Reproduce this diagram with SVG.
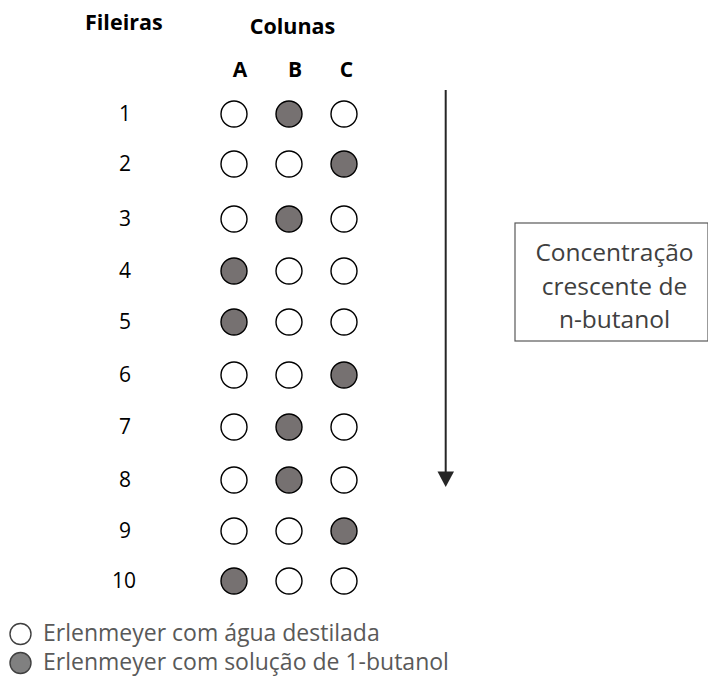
<svg xmlns="http://www.w3.org/2000/svg" width="708" height="685" viewBox="0 0 708 685">
<style>
.hdr{font-family:"Open Sans","Liberation Sans",sans-serif;font-weight:bold;fill:#000}
.num{font-family:"Open Sans","Liberation Sans",sans-serif;font-size:21px;fill:#000;text-anchor:middle}
.e{fill:#fff;stroke:#000;stroke-width:1.4}
.f{fill:#767171;stroke:#000;stroke-width:1.4}
.box{fill:#fff;stroke:#595959;stroke-width:1.2}
.bt{font-family:"Open Sans","Liberation Sans",sans-serif;font-size:24.5px;fill:#404040;text-anchor:middle}
.lg{font-family:"Open Sans","Liberation Sans",sans-serif;font-size:23px;fill:#595959}
.le{fill:#fff;stroke:#404040;stroke-width:1.4}
.lf{fill:#808080;stroke:#404040;stroke-width:1.4}
</style>
<rect width="708" height="685" fill="#fff"/>
<g id="headers">
<text class="hdr" x="85" y="30" font-size="21.5">Fileiras</text>
<text class="hdr" x="292.5" y="34" font-size="21.5" text-anchor="middle">Colunas</text>
<text class="hdr" x="240" y="77" font-size="21" text-anchor="middle">A</text>
<text class="hdr" x="295" y="77" font-size="21" text-anchor="middle">B</text>
<text class="hdr" x="346.5" y="77" font-size="21" text-anchor="middle">C</text>
</g>
<g id="row1"><text class="num" x="125" y="121">1</text><circle class="e" cx="234" cy="114" r="13"/><circle class="f" cx="289" cy="114" r="13"/><circle class="e" cx="344" cy="114" r="13"/></g>
<g id="row2"><text class="num" x="125" y="171">2</text><circle class="e" cx="234" cy="164" r="13"/><circle class="e" cx="289" cy="164" r="13"/><circle class="f" cx="344" cy="164" r="13"/></g>
<g id="row3"><text class="num" x="125" y="226">3</text><circle class="e" cx="234" cy="219" r="13"/><circle class="f" cx="289" cy="219" r="13"/><circle class="e" cx="344" cy="219" r="13"/></g>
<g id="row4"><text class="num" x="125" y="278">4</text><circle class="f" cx="234" cy="271" r="13"/><circle class="e" cx="289" cy="271" r="13"/><circle class="e" cx="344" cy="271" r="13"/></g>
<g id="row5"><text class="num" x="125" y="329">5</text><circle class="f" cx="234" cy="322" r="13"/><circle class="e" cx="289" cy="322" r="13"/><circle class="e" cx="344" cy="322" r="13"/></g>
<g id="row6"><text class="num" x="125" y="382">6</text><circle class="e" cx="234" cy="375" r="13"/><circle class="e" cx="289" cy="375" r="13"/><circle class="f" cx="344" cy="375" r="13"/></g>
<g id="row7"><text class="num" x="125" y="434">7</text><circle class="e" cx="234" cy="427" r="13"/><circle class="f" cx="289" cy="427" r="13"/><circle class="e" cx="344" cy="427" r="13"/></g>
<g id="row8"><text class="num" x="125" y="487">8</text><circle class="e" cx="234" cy="480" r="13"/><circle class="f" cx="289" cy="480" r="13"/><circle class="e" cx="344" cy="480" r="13"/></g>
<g id="row9"><text class="num" x="125" y="538">9</text><circle class="e" cx="234" cy="531" r="13"/><circle class="e" cx="289" cy="531" r="13"/><circle class="f" cx="344" cy="531" r="13"/></g>
<g id="row10"><text class="num" x="124" y="588">10</text><circle class="f" cx="234" cy="581" r="13"/><circle class="e" cx="289" cy="581" r="13"/><circle class="e" cx="344" cy="581" r="13"/></g>
<g id="connectors">
<line x1="445.7" y1="90" x2="445.7" y2="473" stroke="#262626" stroke-width="2"/>
<polygon points="437.5,471.5 454,471.5 445.7,487" fill="#262626"/>
</g>
<g id="label-box">
<rect class="box" x="515" y="223" width="193" height="118"/>
<text class="bt" x="614.5" y="261">Concentração</text>
<text class="bt" x="614.5" y="295">crescente de</text>
<text class="bt" x="614.5" y="328">n-butanol</text>
</g>
<g id="legend">
<circle class="le" cx="20.5" cy="634" r="10.5"/>
<text class="lg" x="43" y="641">Erlenmeyer com água destilada</text>
<circle class="lf" cx="20.5" cy="663" r="10.5"/>
<text class="lg" x="43" y="670">Erlenmeyer com solução de 1-butanol</text>
</g>
</svg>
